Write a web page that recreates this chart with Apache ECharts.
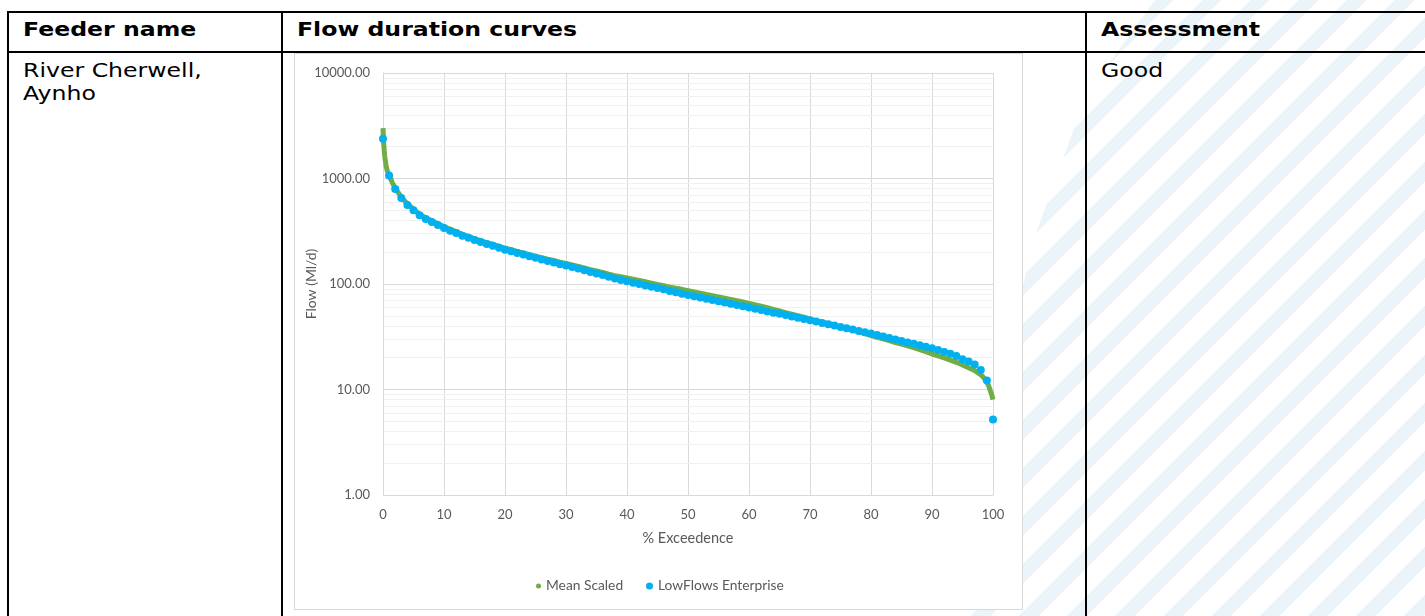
<!DOCTYPE html>
<html><head><meta charset="utf-8">
<script src="https://cdn.jsdelivr.net/npm/echarts@6/dist/echarts.min.js"></script>
<style>
html,body{margin:0;padding:0;width:1425px;height:616px;overflow:hidden;background:#fff;}
body{position:relative;}
#stripes{position:absolute;left:0;top:0;width:1425px;height:616px;
 background:repeating-linear-gradient(135deg, rgb(235,245,249) 0 14px, #fff 14px 34px);
 clip-path:polygon(1155px 0,1425px 0,1425px 616px,960px 616px,1030px 250px,1086px 95px);}
.ln{position:absolute;background:#000;}
.txt{position:absolute;font-family:"DejaVu Sans";color:#000;font-size:20px;line-height:24px;white-space:nowrap;transform:scaleX(1.18);transform-origin:0 0;}
.b{font-weight:bold;}
#box{position:absolute;left:294px;top:53px;width:729px;height:557px;box-sizing:border-box;border:1px solid #D9D9D9;background:#fff;}
#chart{width:727px;height:555px;}
</style></head><body>
<div id="stripes"></div>
<div class="ln" style="left:7px;top:11px;width:1418px;height:2px"></div>
<div class="ln" style="left:7px;top:51px;width:1418px;height:2px"></div>
<div class="ln" style="left:7px;top:11px;width:2px;height:605px"></div>
<div class="ln" style="left:281px;top:11px;width:2px;height:605px"></div>
<div class="ln" style="left:1085px;top:11px;width:2px;height:605px"></div>
<div class="txt b" style="left:23px;top:17px">Feeder name</div>
<div class="txt b" style="left:297px;top:17px">Flow duration curves</div>
<div class="txt b" style="left:1101px;top:17px">Assessment</div>
<div class="txt" style="left:23px;top:58px">River Cherwell,</div>
<div class="txt" style="left:23px;top:81px">Aynho</div>
<div class="txt" style="left:1101px;top:58px">Good</div>
<div id="box"><div id="chart"></div></div>
<script>
// % exceedence and flow (Ml/d) for the "Mean Scaled" series
const meanScaledPct = [0,0.1,0.2,0.3,0.4,0.5,0.7,1,1.5,2,3,4,5,6,7,8,9,10,11,12,13,14,15,16,17,18,19,20,21,22,23,24,25,26,27,28,29,30,31,32,33,34,35,36,37,38,39,40,41,42,43,44,45,46,47,48,49,50,51,52,53,54,55,56,57,58,59,60,61,62,63,64,65,66,67,68,69,70,71,72,73,74,75,76,77,78,79,80,81,82,83,84,85,86,87,88,89,90,91,92,93,94,95,96,97,98,98.5,99,99.3,99.6,99.8,100];
const meanScaledFlow = [3000,2200,1850,1600,1450,1320,1180,1080,920,810,665,575,512,460,424,397,372,350,330,314,296,283,269,258,247,238,228,218,211,204,197,190,184,178,172,167,161,157,152,147,142,137,133,129,124,120,117,114,111,108,105,102,99,96.5,93.5,91,89,86.5,84,82,79.5,77.5,75.5,73.5,71.5,69.5,67.5,65.5,63.5,61.5,59.5,57.5,55.5,53.5,51.8,50,48.5,46.5,45,43.5,42,40.5,39.2,37.8,36.5,35.2,33.8,32.5,31.3,30.2,29,27.9,26.9,25.9,24.9,23.9,22.8,21.7,20.8,19.9,19,18.1,17.1,16.1,15.1,13.8,12.9,11.8,10.8,9.6,8.9,8.0];
// % exceedence and flow (Ml/d) for the "LowFlows Enterprise" series
const lowFlowsPct = [0,1,2,3,4,5,6,7,8,9,10,11,12,13,14,15,16,17,18,19,20,21,22,23,24,25,26,27,28,29,30,31,32,33,34,35,36,37,38,39,40,41,42,43,44,45,46,47,48,49,50,51,52,53,54,55,56,57,58,59,60,61,62,63,64,65,66,67,68,69,70,71,72,73,74,75,76,77,78,79,80,81,82,83,84,85,86,87,88,89,90,91,92,93,94,95,96,97,98,99,100];
const lowFlowsFlow = [2380,1067,797,655,562,500,448,413,387,362,340,320,305,287,275,261,250,239,231,221,211,204,197,190,183,177,171,165,160,154,150,145,140,135,130,126,122,117,113,109,106,103,100,97,94,91.5,89,86,83.5,81,78.5,76.5,74.5,72.5,70.5,68.6,66.8,65,63.2,61.5,59.8,58.2,56.6,55,53.5,52.1,50.7,49.3,47.9,46.6,45.4,44.1,42.8,41.6,40.4,39.2,38.1,37,35.9,34.9,33.9,32.8,31.8,30.8,29.8,28.8,27.9,27.1,26.3,25.4,24.6,23.7,22.7,21.8,20.8,19.4,18.4,17.3,15.3,12.2,5.2];
// minor gridline values on the log axis
const minorGridValues = [2,3,4,5,6,7,8,9,20,30,40,50,60,70,80,90,200,300,400,500,600,700,800,900,2000,3000,4000,5000,6000,7000,8000,9000];
const seriesNames = ['Mean Scaled','LowFlows Enterprise'];

const zip = (a,b) => a.map((x,i)=>[x,b[i]]);
const grey = '#595959', gridC = '#D9D9D9', font = 'Lato';
const chart = echarts.init(document.getElementById('chart'), null, {renderer:'canvas'});
chart.setOption({
  animation:false,
  grid:{left:88,right:29,top:19,bottom:114,containLabel:false,outerBoundsMode:'none'},
  xAxis:{type:'value',min:0,max:100,interval:10,
    name:'% Exceedence',nameLocation:'middle',nameGap:36,nameMoveOverlap:false,
    nameTextStyle:{color:grey,fontFamily:font,fontSize:14.5},
    axisLine:{show:true,lineStyle:{color:gridC}},axisTick:{show:false},
    axisLabel:{color:grey,fontFamily:font,fontSize:13,margin:13},
    splitLine:{show:true,lineStyle:{color:gridC}}},
  yAxis:{type:'log',logBase:10,min:1,max:10000,splitNumber:4,
    name:'Flow (Ml/d)',nameLocation:'middle',nameGap:65,nameMoveOverlap:false,
    nameTextStyle:{color:grey,fontFamily:font,fontSize:14},
    axisLine:{show:true,lineStyle:{color:gridC}},axisTick:{show:false},
    axisLabel:{color:grey,fontFamily:font,fontSize:13,margin:13,formatter:v=>Number(v).toFixed(2)},
    splitLine:{show:true,lineStyle:{color:gridC}}},
  legend:[
    {data:[{name:seriesNames[0],icon:'circle'}],left:241,top:525,padding:0,itemWidth:5,itemHeight:5,selectedMode:false,
     textStyle:{color:grey,fontFamily:font,fontSize:13.8}},
    {data:[{name:seriesNames[1],icon:'circle'}],left:351,top:525,padding:0,itemWidth:7,itemHeight:7,selectedMode:false,
     textStyle:{color:grey,fontFamily:font,fontSize:13.8}}
  ],
  series:[
    {name:'minor',type:'line',data:[],z:0,silent:true,
     markLine:{silent:true,z:0,zlevel:0,symbol:'none',label:{show:false},animation:false,
       lineStyle:{color:'#F0F0F0',width:1,type:'solid'},
       data:minorGridValues.map(v=>({yAxis:v}))}},
    {name:seriesNames[0],type:'line',data:zip(meanScaledPct,meanScaledFlow),z:3,
     showSymbol:false,symbol:'circle',lineStyle:{color:'#70AD47',width:5},itemStyle:{color:'#70AD47'}},
    {name:seriesNames[1],type:'scatter',data:zip(lowFlowsPct,lowFlowsFlow),z:4,
     symbolSize:8,itemStyle:{color:'#00B0F0',opacity:1}}
  ]
});
</script>
</body></html>
